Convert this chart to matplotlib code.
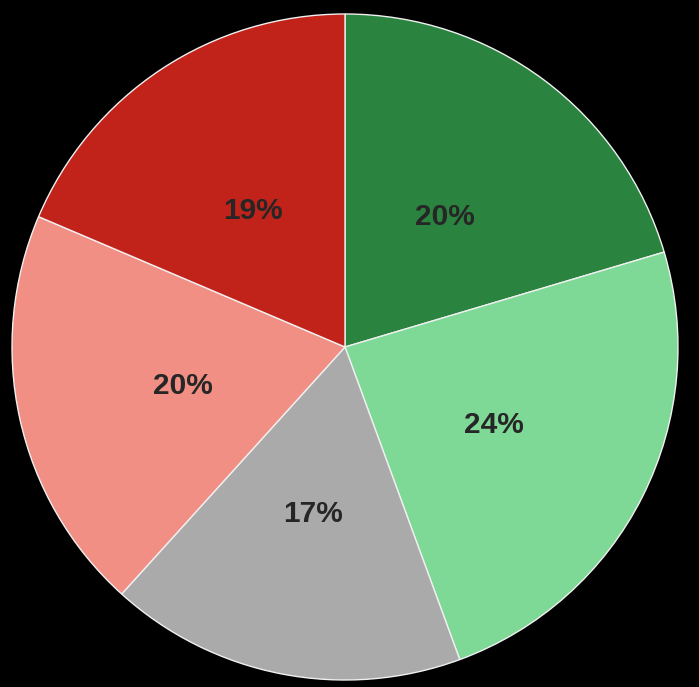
import matplotlib.pyplot as plt

labels = ['A', 'B', 'C', 'D', 'E']
values = [20.4, 24.0, 17.3, 19.7, 18.6]
colors = ['#2a843f', '#7ed896', '#aaaaaa', '#f28f84', '#c1231a']

fig = plt.figure(figsize=(6.99, 6.87), dpi=100, facecolor='black')
ax = fig.add_axes([0, 0, 1, 1])
ax.set_facecolor('black')

wedges, texts, autotexts = ax.pie(
    values, colors=colors, startangle=90, counterclock=False,
    autopct='%1.0f%%', pctdistance=0.5,
    wedgeprops=dict(edgecolor='#f0f0f0', linewidth=1),
    textprops=dict(fontsize=21.5, fontweight='bold', color='#262626',
                   family='Liberation Sans'),
)
# nudge labels down a little to sit like the original
for t in autotexts:
    x, y = t.get_position()
    t.set_position((x, y - 0.01))

# pie centred at (345, 347) px with radius ~333 px
cx, cy, r = 345 / 699, 1 - 347 / 687, 333
ax.set_xlim(-cx * 699 / r, (1 - cx) * 699 / r)
ax.set_ylim(-cy * 687 / r, (1 - cy) * 687 / r)
ax.set_aspect('equal')
ax.axis('off')

fig.savefig('out.png', dpi=100, facecolor='black')
